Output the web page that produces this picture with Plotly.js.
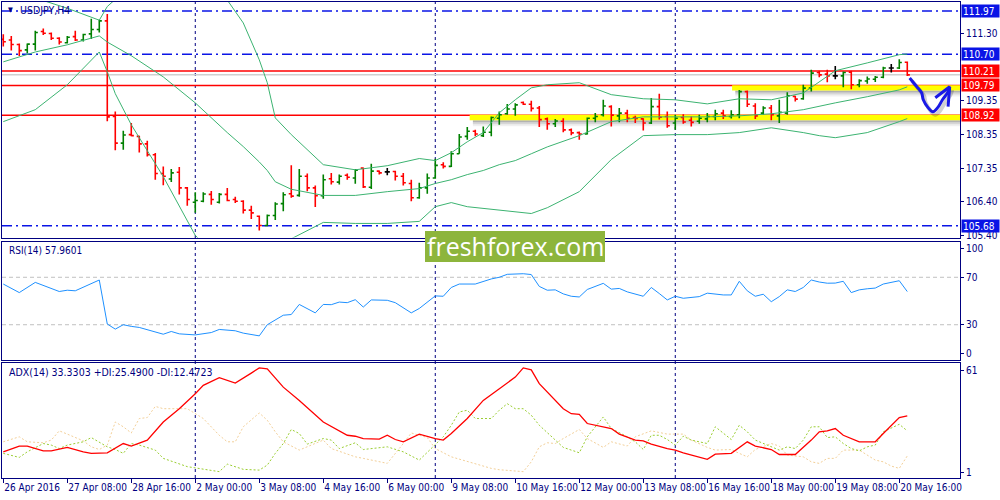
<!DOCTYPE html>
<html>
<head>
<meta charset="utf-8">
<script src="https://cdn.plot.ly/plotly-3.0.1.min.js"></script>
<style>html,body{margin:0;padding:0;background:#fff;}#chart{width:1000px;height:500px;}</style>
</head>
<body>
<div id="chart"></div>
<script>
// ---------- DATA ----------
const symbolTitle = 'USDJPY,H4';
const xLabels = ['26 Apr 2016','27 Apr 08:00','28 Apr 16:00','2 May 00:00','3 May 08:00','4 May 16:00','6 May 00:00','9 May 08:00','10 May 16:00','12 May 00:00','13 May 08:00','16 May 16:00','18 May 00:00','19 May 08:00','20 May 16:00'];
const xLabelIdx = [0,8,16,24,32,40,48,56,64,72,80,88,96,104,112];
const weekSepIdx = [24,54,84];

const barOpen  = [111.14,111.12,110.99,110.83,111.00,111.37,111.31,111.17,111.04,111.22,111.12,111.30,111.43,111.68,108.88,108.10,108.35,108.30,108.08,107.76,
107.21,107.05,107.25,106.79,106.37,106.40,106.60,106.37,106.60,106.45,106.40,106.14,105.96,105.69,105.98,106.33,106.62,106.57,107.13,106.79,
106.56,107.06,106.96,107.16,107.08,107.37,106.81,107.28,107.26,107.27,107.13,106.92,106.50,106.79,107.08,107.47,107.42,107.79,108.30,108.45,
108.32,108.42,108.83,108.96,109.10,109.29,109.24,109.13,108.81,108.67,108.74,108.49,108.41,108.37,108.83,108.93,109.17,108.90,108.98,108.85,
108.81,108.69,109.17,108.88,108.69,108.85,108.77,108.74,108.81,108.88,108.98,108.88,108.93,109.61,109.19,108.98,109.13,108.90,108.98,109.47,
109.40,109.71,110.17,110.12,110.07,110.07,110.18,109.81,109.92,109.97,110.03,110.30,110.30,110.47];
const barHigh  = [111.29,111.24,111.02,111.02,111.39,111.46,111.34,111.20,111.24,111.39,111.30,111.74,111.71,111.88,109.03,108.46,108.69,108.32,108.17,107.81,
107.42,107.34,107.40,106.82,106.66,106.66,106.70,106.64,106.79,106.53,106.43,106.27,105.98,106.01,106.37,106.66,107.45,107.34,107.21,106.86,
107.18,107.23,107.18,107.21,107.34,107.39,107.50,107.30,107.37,107.29,107.23,107.03,106.94,107.21,107.64,107.54,107.86,108.37,108.57,108.49,
108.59,108.88,109.03,109.25,109.27,109.32,109.34,109.19,108.85,108.81,108.83,108.53,108.44,108.85,108.98,109.37,109.21,109.13,109.08,108.90,
108.83,109.42,109.55,109.03,108.93,108.95,108.88,108.93,108.98,109.08,109.08,109.06,109.66,109.64,109.27,109.18,109.22,109.37,109.59,109.49,
109.81,110.25,110.22,110.25,110.36,110.20,110.22,109.97,110.05,110.07,110.34,110.42,110.56,110.49];
const barLow   = [110.93,110.81,110.65,110.73,110.81,111.27,111.12,110.99,111.02,111.09,111.08,111.15,111.34,108.74,107.89,107.91,108.30,107.83,107.71,107.03,
106.87,106.96,106.60,106.27,106.06,106.37,106.30,106.33,106.40,106.35,106.04,105.88,105.54,105.67,105.85,106.11,106.50,106.53,106.69,106.23,
106.47,106.89,106.89,107.03,106.91,106.79,106.76,107.18,107.16,107.01,106.86,106.40,106.47,106.62,107.06,107.36,107.40,107.79,108.20,108.30,
108.28,108.30,108.64,108.93,108.90,109.22,109.03,108.57,108.49,108.57,108.42,108.33,108.20,108.35,108.71,108.88,108.59,108.71,108.71,108.69,
108.47,108.66,108.79,108.55,108.49,108.67,108.59,108.67,108.71,108.77,108.81,108.82,108.83,109.16,108.81,108.93,108.77,108.69,108.93,109.32,
109.37,109.61,110.03,109.88,109.97,109.74,109.68,109.74,109.84,109.89,110.00,110.17,110.27,110.07];
const barClose = [111.07,110.99,110.81,111.00,111.34,111.32,111.17,111.06,111.20,111.12,111.28,111.43,111.68,108.87,108.10,108.34,108.32,108.08,107.76,107.21,
107.13,107.23,106.79,106.45,106.42,106.61,106.45,106.60,106.42,106.40,106.14,106.06,105.69,105.98,106.32,106.59,106.55,107.13,106.79,106.56,
107.03,106.97,107.13,107.10,107.31,106.82,107.28,107.23,107.26,107.13,106.94,106.50,106.79,107.08,107.45,107.42,107.79,108.28,108.45,108.37,
108.42,108.85,108.93,109.10,109.22,109.24,109.12,108.79,108.67,108.75,108.49,108.40,108.37,108.83,108.88,109.19,108.92,108.98,108.83,108.82,
108.69,109.17,108.86,108.61,108.83,108.72,108.71,108.83,108.88,108.96,108.90,108.93,109.61,109.24,108.90,109.13,108.93,109.00,109.49,109.39,
109.71,110.15,110.10,110.07,110.07,110.17,109.81,109.93,109.98,110.03,110.30,110.30,110.46,110.10];

// Bollinger bands (20) read at these bar positions
const bbIdx   = [0,4,8,12,13,14,16,20,24,28,30,32,33,34,36,40,44,48,52,54,56,58,60,62,64,66,68,72,76,80,84,88,92,96,100,102,104,108,112,113];
const bbUpper = [112.25,112.35,112.05,111.70,112.10,112.31,112.68,112.96,113.16,112.29,111.62,110.54,109.87,108.84,108.35,107.47,107.32,107.44,107.65,107.59,
107.82,108.14,108.41,108.99,109.37,109.72,109.81,109.87,109.52,109.40,109.37,109.25,109.40,109.37,109.57,109.90,110.22,110.45,110.69,110.71];
const bbMid   = [110.48,110.77,110.98,111.24,111.06,110.93,110.66,110.04,109.28,108.41,108.00,107.55,107.30,106.97,106.75,106.57,106.57,106.68,106.77,106.92,
107.03,107.18,107.30,107.47,107.59,107.79,107.99,108.32,108.73,108.87,108.87,108.87,108.90,108.96,109.08,109.19,109.28,109.46,109.66,109.75];
const bbLower = [108.73,109.08,109.81,110.77,110.19,109.55,108.64,107.12,105.40,104.50,104.40,104.50,104.70,104.90,105.30,105.78,105.75,105.75,105.81,106.24,
106.36,106.24,106.19,106.13,106.07,106.04,106.21,106.68,107.62,108.32,108.35,108.35,108.41,108.55,108.41,108.32,108.26,108.41,108.73,108.82];

// horizontal levels
const blueLevels = [111.97, 110.70, 105.68];
const redLevels  = [110.21, 109.79, 108.92];
const zoneLevels = [108.92, 109.79];
const zoneStartIdx = [58.3, 91.1];
const priceTicks = [111.30, 109.35, 108.35, 107.35, 106.40, 105.40];

// hand-drawn arrow (bar index, price)
const arrowIdx   = [113.3,114.2,114.8,115.0,115.6,116.2,116.8,117.4,118.1,118.3];
const arrowPrice = [110.01,109.75,109.57,109.37,109.14,109.02,109.14,109.37,109.60,109.75];
const headIdx    = [116.5,118.3,118.1];
const headPrice  = [109.43,109.75,109.17];

// RSI(14)
const rsiLabel = 'RSI(14) 57.9601';
const rsiIdx = [0,2,4,7,8,9,12,13,14,15,16,17,20,21,22,24,26,27,29,30,32,33,35,36,37,39,40,41,42,43,44,45,46,48,49,51,52,54,55,56,57,59,61,62,63,64,65,66,67,68,69,70,71,72,73,75,76,77,78,80,81,82,83,84,85,87,88,90,91,92,93,94,95,96,97,98,99,100,101,102,103,104,105,106,107,108,109,110,111,112,113];
const rsiVal = [64.3,57.1,65.7,58.0,59.1,58.6,67.7,30.6,26.3,30.0,28.6,27.7,22.0,24.3,22.3,21.4,23.4,26.0,24.9,22.9,20.6,30.0,38.0,38.6,47.1,40.0,47.1,46.9,49.1,48.6,51.1,44.9,50.9,50.6,48.6,40.0,43.7,54.3,54.0,61.4,64.3,64.3,68.6,70.0,72.5,73.0,73.0,72.3,62.3,59.1,59.4,56.0,54.0,53.4,59.7,64.9,60.0,60.6,57.7,54.0,61.4,56.3,50.9,54.0,52.3,53.7,56.6,55.1,55.1,66.6,58.6,54.0,55.7,49.4,53.7,59.4,58.0,61.4,67.7,66.0,65.0,65.1,66.6,57.1,59.4,60.3,60.9,64.3,65.4,67.1,57.96];
const rsiLevels = [70, 30];

// ADX(14)
const adxLabel = 'ADX(14) 33.3303 +DI:25.4900 -DI:12.4723';
const adxIdx = [0,2,3,5,6,8,10,11,13,15,16,18,20,22,24,25,27,29,31,32,33,35,37,40,43,44,45,47,48,49,50,52,54,55,56,58,60,62,64,65,66,67,70,71,72,73,75,76,77,79,80,81,83,84,85,87,88,89,91,93,94,96,97,99,101,102,103,104,105,107,109,110,111,112,113];
const adxVal = [14.6,17.6,17.6,15.1,15.1,16.9,14.6,13.8,14.1,18.9,17.6,20.7,30.1,37.0,44.8,49.1,53.1,50.3,55.5,58.2,57.7,48.2,41.3,30.1,23.2,22.7,21.5,21.2,23.2,21.0,19.8,23.8,21.5,20.7,24.1,31.9,41.3,47.4,53.4,58.2,57.2,50.0,37.0,34.4,34.1,29.3,27.6,26.7,23.8,20.7,20.3,18.6,16.3,15.5,14.1,11.7,10.7,13.4,13.8,19.8,17.6,15.8,13.2,13.2,20.7,25.0,25.5,26.7,23.2,19.8,19.8,24.1,28.4,32.4,33.33];
const pdiIdx = [0,2,3,5,6,7,8,10,11,12,13,14,15,16,17,19,20,23,25,27,28,29,30,32,33,34,35,36,37,38,40,41,42,44,45,48,50,52,54,55,56,57,58,59,61,62,63,64,65,66,67,69,70,72,73,75,76,78,79,80,81,82,83,84,85,86,88,89,91,92,93,94,95,97,98,99,100,101,102,103,104,105,106,107,108,109,110,112,113];
const pdiVal = [13.8,11.7,14.6,18.9,18.1,16.3,18.1,19.8,22.0,19.8,17.2,15.8,13.8,18.9,18.1,15.5,11.2,6.9,5.5,4.3,8.2,6.9,5.5,5.1,7.7,13.8,18.9,26.2,24.1,18.6,21.5,20.7,16.3,19.3,15.8,17.2,14.6,10.3,18.1,22.4,28.4,35.3,36.2,31.9,31.9,36.2,39.6,37.0,37.0,33.6,28.4,20.7,16.9,14.1,22.4,32.7,26.7,22.4,19.8,15.8,23.2,23.2,21.0,18.1,22.7,20.7,18.9,27.6,21.0,28.4,25.0,20.7,18.9,15.5,17.2,16.3,20.7,27.6,27.6,22.0,22.4,18.9,16.3,15.1,17.2,18.1,25.0,28.9,25.49];
const mdiIdx = [0,2,3,5,6,7,8,10,11,12,13,14,15,16,17,18,19,20,23,25,27,28,29,30,32,33,34,35,37,40,41,44,45,48,50,51,53,54,56,59,61,62,64,65,66,67,68,69,70,72,73,75,76,78,79,81,83,85,86,88,89,91,92,93,94,96,97,98,100,101,102,103,104,105,107,108,109,110,111,112,113];
const mdiVal = [19.8,22.4,19.8,19.3,20.7,25.5,23.8,20.3,17.2,15.8,18.1,30.1,27.6,24.4,31.9,32.4,38.2,37.0,37.0,31.9,23.2,19.8,19.8,27.6,34.8,31.0,25.0,19.8,15.5,20.7,16.3,12.0,11.2,8.6,18.9,24.4,22.0,16.3,12.0,8.2,6.0,5.3,4.6,4.3,9.4,17.2,19.3,18.9,21.5,26.2,21.5,16.9,19.8,17.6,22.4,25.5,23.8,23.8,20.7,16.9,15.5,15.8,13.8,12.0,15.8,18.9,17.6,12.9,12.0,9.4,8.6,11.2,11.2,15.5,15.5,12.9,10.3,9.4,7.2,6.0,12.47];

const watermarkText = 'freshforex.com';

// ---------- STYLE / LAYOUT ----------
const NAVY = '#000080';
const FONT = "'DejaVu Sans Condensed','Liberation Sans',sans-serif";
const yMin = 105.338, yMax = 112.233;
const mainPx = 236;                       // main panel height in px
const pxP = (yMax - yMin) / mainPx;       // price per pixel
const xR = [-0.16, 119.59];

function pick(cond) {
  const ii = barOpen.map((_, i) => i).filter(cond);
  return { x: ii, open: ii.map(i => barOpen[i]), high: ii.map(i => barHigh[i]),
           low: ii.map(i => barLow[i]), close: ii.map(i => barClose[i]) };
}
function ohlcTrace(d, col) {
  return Object.assign({ type: 'ohlc', xaxis: 'x', yaxis: 'y', tickwidth: 0.32,
    line: { width: 1.6 }, increasing: { line: { color: col } }, decreasing: { line: { color: col } },
    hoverinfo: 'skip', showlegend: false }, d);
}
function line(x, y, color, width, xa, ya, dash, shape) {
  return { type: 'scatter', mode: 'lines', x: x, y: y, xaxis: xa, yaxis: ya,
    line: { color: color, width: width, dash: dash || 'solid', shape: shape || 'linear' },
    hoverinfo: 'skip', showlegend: false, cliponaxis: true };
}

const data = [
  line(bbIdx, bbUpper, '#3cb371', 1, 'x', 'y'),
  line(bbIdx, bbMid,   '#3cb371', 1, 'x', 'y'),
  line(bbIdx, bbLower, '#3cb371', 1, 'x', 'y'),
  ohlcTrace(pick(i => barClose[i] > barOpen[i]), '#008000'),
  ohlcTrace(pick(i => barClose[i] < barOpen[i]), '#ff0000'),
  ohlcTrace(pick(i => barClose[i] === barOpen[i]), '#000000'),
  // arrow shadow + arrow
  line(arrowIdx.map(v => v + 0.3), arrowPrice.map(v => v - 3 * pxP), 'rgba(0,0,0,0.18)', 4, 'x', 'y', 'solid', 'spline'),
  line(arrowIdx, arrowPrice, '#1a1ae6', 3, 'x', 'y', 'solid', 'spline'),
  line(headIdx, headPrice, '#1a1ae6', 3, 'x', 'y'),
  // RSI
  line(rsiIdx, rsiVal, '#1e90ff', 1, 'x2', 'y2'),
  // ADX
  line(mdiIdx, mdiVal, '#f2cf98', 1, 'x3', 'y3', '2px,2px'),
  line(pdiIdx, pdiVal, '#9acd32', 1, 'x3', 'y3', '2px,2px'),
  line(adxIdx, adxVal, '#ff0000', 1.3, 'x3', 'y3')
];

const shapes = [];
// week separators
weekSepIdx.forEach(i => shapes.push({ type: 'line', xref: 'x', yref: 'paper', x0: i, x1: i, y0: 0, y1: 1,
  line: { color: NAVY, width: 1, dash: '3px,3px' }, layer: 'below' }));
// yellow zones with soft shadow
zoneLevels.forEach((lv, k) => {
  const x0 = zoneStartIdx[k];
  [[5, 7, 'rgba(0,0,0,0.30)'], [7, 9, 'rgba(0,0,0,0.16)'], [9, 11, 'rgba(0,0,0,0.06)']].forEach(s => {
    shapes.push({ type: 'rect', xref: 'x', yref: 'y', x0: x0 + 0.4, x1: xR[1], y0: lv - s[0] * pxP, y1: lv - s[1] * pxP,
      fillcolor: s[2], line: { width: 0 }, layer: 'below' });
  });
  shapes.push({ type: 'rect', xref: 'x', yref: 'y', x0: x0, x1: xR[1], y0: lv + 0.3 * pxP, y1: lv - 5 * pxP,
    fillcolor: '#ffff00', line: { width: 0 }, layer: 'below' });
});
// bid line
shapes.push({ type: 'line', xref: 'paper', yref: 'y', x0: 0, x1: 1, y0: barClose[barClose.length - 1], y1: barClose[barClose.length - 1],
  line: { color: '#d0d0d0', width: 1.5 }, layer: 'below' });
blueLevels.forEach(lv => shapes.push({ type: 'line', xref: 'paper', yref: 'y', x0: 0, x1: 1, y0: lv, y1: lv,
  line: { color: '#0a14e6', width: 1.5, dash: '10px,4px,2px,4px' }, layer: 'below' }));
redLevels.forEach(lv => shapes.push({ type: 'line', xref: 'paper', yref: 'y', x0: 0, x1: 1, y0: lv, y1: lv,
  line: { color: '#ff0000', width: 1.5 }, layer: 'below' }));
rsiLevels.forEach(lv => shapes.push({ type: 'line', xref: 'paper', yref: 'y2', x0: 0, x1: 1, y0: lv, y1: lv,
  line: { color: '#c0c0c0', width: 1, dash: '4px,3px' }, layer: 'below' }));
// watermark box
shapes.push({ type: 'rect', xref: 'paper', yref: 'paper', x0: (425 - 2) / 958, x1: (605 - 2) / 958,
  y0: (478 - 262) / 476, y1: (478 - 231) / 476, fillcolor: '#8db53c', line: { width: 0 }, layer: 'above' });

const annotations = [];
function priceBox(price, bg, txt, fg) {
  annotations.push({ xref: 'paper', yref: 'y', x: 1, y: price, xanchor: 'left', yanchor: 'middle', xshift: 1,
    text: txt, showarrow: false, align: 'left', width: 35, height: 10, borderpad: 1, bgcolor: bg,
    font: { family: FONT, size: 10, color: fg || '#ffffff' } });
}
priceBox(barClose[barClose.length - 1] + 1.5 * pxP, '#ffffff', barClose[barClose.length - 1].toFixed(2), NAVY);
blueLevels.forEach(lv => priceBox(lv, '#0a14e6', lv.toFixed(2)));
redLevels.forEach(lv => priceBox(lv, '#ff0000', lv.toFixed(2)));
annotations.push({ xref: 'paper', yref: 'paper', x: 4 / 958, y: (478 - 10) / 476, xanchor: 'left', yanchor: 'middle',
  text: '▼', showarrow: false, font: { family: FONT, size: 7, color: NAVY } });
annotations.push({ xref: 'paper', yref: 'paper', x: 16 / 958, y: (478 - 10) / 476, xanchor: 'left', yanchor: 'middle',
  text: symbolTitle, showarrow: false, font: { family: FONT, size: 10.5, color: NAVY } });
annotations.push({ xref: 'paper', yref: 'paper', x: 5 / 958, y: (478 - 251) / 476, xanchor: 'left', yanchor: 'middle',
  text: rsiLabel, showarrow: false, font: { family: FONT, size: 10, color: NAVY } });
annotations.push({ xref: 'paper', yref: 'paper', x: 5 / 958, y: (478 - 372) / 476, xanchor: 'left', yanchor: 'middle',
  text: adxLabel, showarrow: false, font: { family: FONT, size: 10.5, color: NAVY } });
annotations.push({ xref: 'paper', yref: 'paper', x: (515 - 2) / 958, y: (478 - 246) / 476, xanchor: 'center', yanchor: 'middle',
  text: watermarkText, showarrow: false, font: { family: "'Open Sans',sans-serif", size: 25, color: '#ffffff' } });

const tickFont = { family: FONT, size: 10, color: NAVY };
const baseX = { range: xR, showline: true, mirror: true, linecolor: NAVY, linewidth: 1, showgrid: false,
  zeroline: false, fixedrange: true };
const baseY = { side: 'right', showline: true, mirror: true, linecolor: NAVY, linewidth: 1, showgrid: false,
  zeroline: false, ticks: 'outside', ticklen: 3, tickcolor: NAVY, tickfont: tickFont, fixedrange: true };

const layout = {
  width: 1000, height: 500,
  margin: { l: 2, r: 40, t: 2, b: 22 },
  paper_bgcolor: '#ffffff', plot_bgcolor: '#ffffff',
  showlegend: false, hovermode: false, dragmode: false,
  xaxis: Object.assign({}, baseX, { anchor: 'y', showticklabels: false, ticks: '', rangeslider: { visible: false } }),
  xaxis2: Object.assign({}, baseX, { anchor: 'y2', matches: 'x', showticklabels: false, ticks: '' }),
  xaxis3: Object.assign({}, baseX, { anchor: 'y3', matches: 'x', tickvals: xLabelIdx, ticktext: xLabels,
    tickangle: 0, ticks: 'outside', ticklen: 4, tickcolor: NAVY, ticklabelposition: 'outside right', tickfont: tickFont }),
  yaxis: Object.assign({}, baseY, { anchor: 'x', domain: [(478 - 237.5) / 476, 1], range: [yMin, yMax],
    tickvals: priceTicks, ticktext: priceTicks.map(v => v.toFixed(2)) }),
  yaxis2: Object.assign({}, baseY, { anchor: 'x2', domain: [(478 - 360.3) / 476, (478 - 241.7) / 476], range: [0, 100],
    tickvals: [94, 70, 30, 6], ticktext: ['100', '70', '30', '0'] }),
  yaxis3: Object.assign({}, baseY, { anchor: 'x3', domain: [0, (478 - 362.5) / 476], range: [1, 61],
    tickvals: [56.9, 4.1], ticktext: ['61', '1'] }),
  shapes: shapes,
  annotations: annotations
};

Plotly.newPlot('chart', data, layout, { staticPlot: true, displayModeBar: false });
</script>
</body>
</html>
